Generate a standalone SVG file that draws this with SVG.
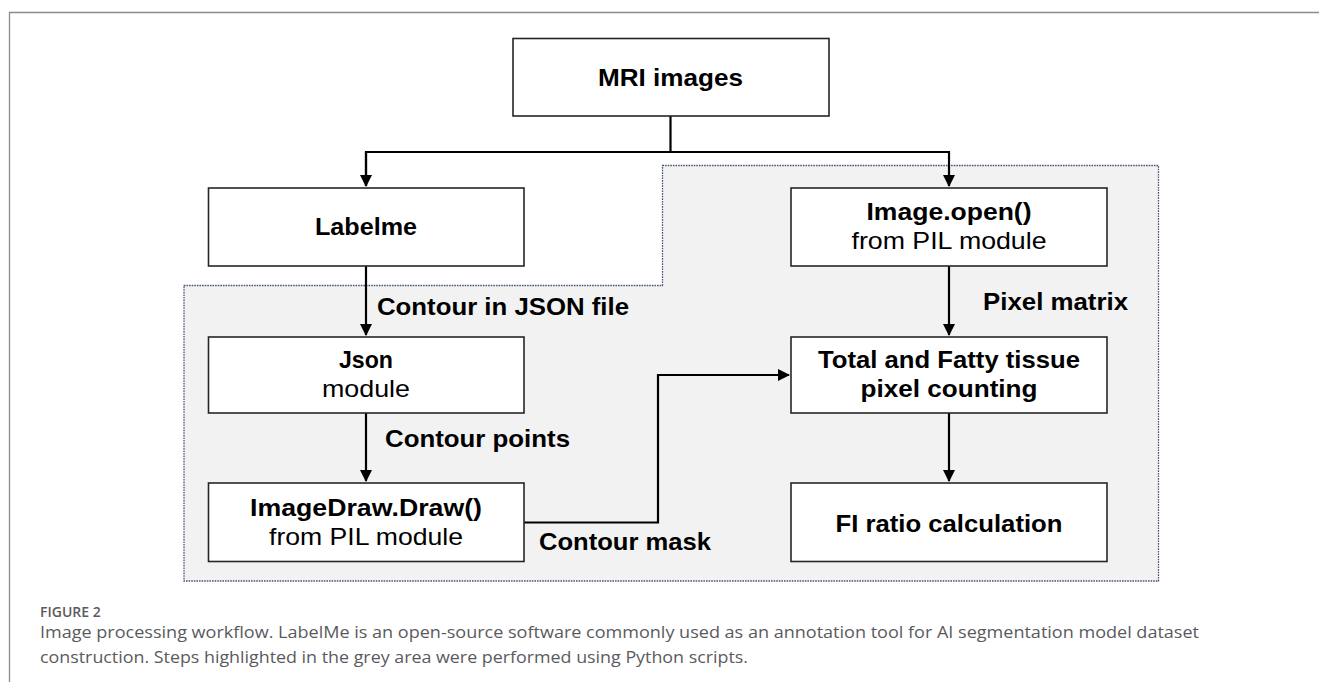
<svg xmlns="http://www.w3.org/2000/svg" width="1319" height="682" viewBox="0 0 1319 682">
<style>
.box{fill:#ffffff;stroke:#262626;stroke-width:1.6}
.b{font-family:"Liberation Sans","Open Sans",sans-serif;font-weight:700;font-size:24px;fill:#000;text-anchor:middle}
.r{font-family:"Liberation Sans","Open Sans",sans-serif;font-weight:400;font-size:24px;fill:#000;text-anchor:middle}
.lbl{font-family:"Liberation Sans","Open Sans",sans-serif;font-weight:700;font-size:24px;fill:#000}
.con{fill:none;stroke:#000;stroke-width:2.2}
.cap{font-family:"Open Sans","Noto Sans","Liberation Sans",sans-serif;font-weight:400;font-size:16px;fill:#5a5a5e}
.fig{font-family:"Open Sans","Noto Sans","Liberation Sans",sans-serif;font-weight:600;font-size:14px;fill:#5a5a5e}
</style>
<defs>
<marker id="ah" markerWidth="12" markerHeight="12" viewBox="0 0 12 12" refX="11" refY="6" orient="auto" markerUnits="userSpaceOnUse">
<path d="M0,0 L12,6 L0,12 Z" fill="#000"/>
</marker>
</defs>
<rect width="1319" height="682" fill="#ffffff"/>
<path d="M9.5,682 V12.5 H1319" fill="none" stroke="#8a8a90" stroke-width="1.3"/>
<g id="python-area">
<path d="M662.5,165.5 H1158.5 V581 H184 V285.5 H662.5 Z" fill="#f2f2f2" stroke="#4a5778" stroke-width="1.3" stroke-dasharray="1.6 1"/>
</g>
<g id="connectors">
<path class="con" d="M670.5,116 V152 H366 V186"/>
<path class="con" d="M670.5,152 H949 V186" marker-end="url(#ah)"/>
<path class="con" d="M366,152 V186" marker-end="url(#ah)"/>
<path class="con" d="M366,266 V335" marker-end="url(#ah)"/>
<path class="con" d="M949,266 V335" marker-end="url(#ah)"/>
<path class="con" d="M366,413 V481" marker-end="url(#ah)"/>
<path class="con" d="M949,413 V481" marker-end="url(#ah)"/>
<path class="con" d="M524,522.5 H658 V375 H789" marker-end="url(#ah)"/>
<text class="lbl" x="377" y="315" textLength="252" lengthAdjust="spacingAndGlyphs">Contour in JSON file</text>
<text class="lbl" x="983" y="310" textLength="145" lengthAdjust="spacingAndGlyphs">Pixel matrix</text>
<text class="lbl" x="385" y="447" textLength="185" lengthAdjust="spacingAndGlyphs">Contour points</text>
<text class="lbl" x="539" y="550" textLength="172" lengthAdjust="spacingAndGlyphs">Contour mask</text>
</g>
<g id="mri">
<rect class="box" x="513" y="38.5" width="316" height="77.5"/>
<text class="b" x="670.5" y="86" textLength="145" lengthAdjust="spacingAndGlyphs">MRI images</text>
</g>
<g id="labelme">
<rect class="box" x="208.5" y="188" width="315.5" height="78"/>
<text class="b" x="366" y="235" textLength="102" lengthAdjust="spacingAndGlyphs">Labelme</text>
</g>
<g id="image-open">
<rect class="box" x="791" y="188" width="316" height="78"/>
<text class="b" x="949" y="220" textLength="165" lengthAdjust="spacingAndGlyphs">Image.open()</text>
<text class="r" x="949" y="249" textLength="195" lengthAdjust="spacingAndGlyphs">from PIL module</text>
</g>
<g id="json">
<rect class="box" x="208.5" y="337" width="315.5" height="76"/>
<text class="b" x="366" y="368" textLength="54" lengthAdjust="spacingAndGlyphs">Json</text>
<text class="r" x="366" y="397" textLength="88" lengthAdjust="spacingAndGlyphs">module</text>
</g>
<g id="total">
<rect class="box" x="791" y="337" width="316" height="76"/>
<text class="b" x="949" y="368" textLength="262" lengthAdjust="spacingAndGlyphs">Total and Fatty tissue</text>
<text class="b" x="949" y="397" textLength="177" lengthAdjust="spacingAndGlyphs">pixel counting</text>
</g>
<g id="imagedraw">
<rect class="box" x="208.5" y="483" width="315.5" height="78.5"/>
<text class="b" x="366" y="516" textLength="232" lengthAdjust="spacingAndGlyphs">ImageDraw.Draw()</text>
<text class="r" x="366" y="545" textLength="194" lengthAdjust="spacingAndGlyphs">from PIL module</text>
</g>
<g id="fi-ratio">
<rect class="box" x="791" y="483" width="316" height="78.5"/>
<text class="b" x="949" y="532" textLength="227" lengthAdjust="spacingAndGlyphs">FI ratio calculation</text>
</g>
<g id="caption">
<text class="fig" x="40" y="617">FIGURE 2</text>
<text class="cap" x="40" y="638" textLength="1159" lengthAdjust="spacingAndGlyphs">Image processing workflow. LabelMe is an open-source software commonly used as an annotation tool for AI segmentation model dataset</text>
<text class="cap" x="40" y="663" textLength="708" lengthAdjust="spacingAndGlyphs">construction. Steps highlighted in the grey area were performed using Python scripts.</text>
</g>
</svg>
